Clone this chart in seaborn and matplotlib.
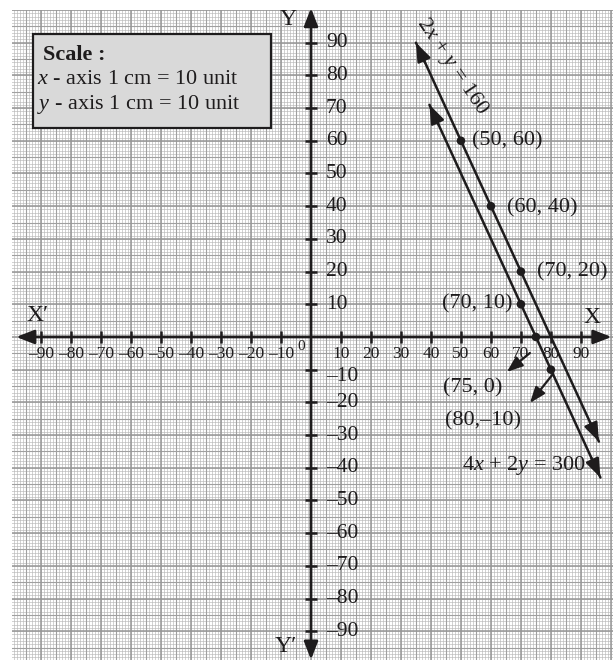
import numpy as np
import pandas as pd
import matplotlib
matplotlib.use("Agg")
import matplotlib.pyplot as plt
from matplotlib.patches import Rectangle
import seaborn as sns

# ---- data ----
x_ticks = [-90, -80, -70, -60, -50, -40, -30, -20, -10, 10, 20, 30, 40, 50, 60, 70, 80, 90]
y_ticks = [90, 80, 70, 60, 50, 40, 30, 20, 10, -10, -20, -30, -40, -50, -60, -70, -80, -90]

# 2x + y = 160  (drawn between these x values)
line1_x = [35, 96]
line1_c = 160
# 4x + 2y = 300  ->  2x + y = 150
line2_x = [39.5, 96.5]
line2_c = 150

pts1_x = [50, 60, 70]
pts1_y = [60, 40, 20]
pts2_x = [70, 75, 80]
pts2_y = [10, 0, -10]

INK = "#1e1c1d"

def minus(v):
    return str(v).replace("-", "\u2013")

sns.set_theme(style="white")
plt.rcParams["font.family"] = ["Liberation Serif", "DejaVu Serif"]
plt.rcParams["mathtext.fontset"] = "custom"
plt.rcParams["mathtext.rm"] = "Liberation Serif"
plt.rcParams["mathtext.it"] = "Liberation Serif:italic"
plt.rcParams["mathtext.bf"] = "Liberation Serif:bold"

W, H = 613, 660
fig = plt.figure(figsize=(W / 100, H / 100), dpi=100)
ax = fig.add_axes([12 / W, 0, 1 - 12 / W, 650 / H])
ax.set_xlim(-99.7, 100.7)
ax.set_ylim(-98.8, 100.0)
ax.set_axis_off()

# ---- graph paper ----
fine = np.arange(-100, 101, 1)
half = np.arange(-95, 101, 10)
major = np.arange(-100, 101, 10)
ax.vlines(fine, -100, 101, color="#b8b8b8", lw=0.45, zorder=0)
ax.hlines(fine, -100, 101, color="#b8b8b8", lw=0.45, zorder=0)
ax.vlines(half, -100, 101, color="#a0a0a0", lw=0.8, zorder=0)
ax.hlines(half, -100, 101, color="#a0a0a0", lw=0.8, zorder=0)
ax.vlines(major, -100, 101, color="#969696", lw=1.1, zorder=0)
ax.hlines(major, -100, 101, color="#969696", lw=1.1, zorder=0)

# ---- coordinate axes with arrows ----
axis_kw = dict(arrowstyle="<|-|>,head_length=0.9,head_width=0.35", lw=2.0,
               color=INK, shrinkA=0, shrinkB=0, mutation_scale=12)
ax.annotate("", xy=(100.2, 0), xytext=(-98.3, 0), arrowprops=axis_kw,
            annotation_clip=False, zorder=3)
ax.annotate("", xy=(0, 100.6), xytext=(0, -98.7), arrowprops=axis_kw,
            annotation_clip=False, zorder=3)
ax.plot(x_ticks, [0] * len(x_ticks), ls="none", marker="|", ms=9, mew=1.8,
        color=INK, zorder=3)
ax.plot([0] * len(y_ticks), y_ticks, ls="none", marker="_", ms=9, mew=1.8,
        color=INK, zorder=3)

for v in x_ticks:
    ax.text(v, -5.2, minus(v), ha="center", va="center", fontsize=12.5,
            color=INK, zorder=4)
for v in y_ticks:
    # the label just below the origin sits a little lower, clear of the x labels
    ty = v - 2.2 if v == -10 else v
    ax.text(5.0, ty, minus(v), ha="left", va="center", fontsize=15.5,
            color=INK, zorder=4)
ax.text(-3.4, -2.8, "0", ha="center", va="center", fontsize=11, color=INK)

lab_kw = dict(ha="center", va="center", fontsize=17, color=INK)
ax.text(-91.3, 6.6, "X\u2032", **lab_kw)
ax.text(93.7, 5.8, "X", **lab_kw)
ax.text(-7.7, 97.0, "Y", **lab_kw)
ax.text(-8.5, -94.8, "Y\u2032", **lab_kw)

# ---- the two lines ----
head_kw = dict(arrowstyle="-|>,head_length=0.8,head_width=0.3", lw=1.8,
               color=INK, shrinkA=0, shrinkB=0, mutation_scale=14)
for xs, c in ((line1_x, line1_c), (line2_x, line2_c)):
    xs = np.array(xs, dtype=float)
    df = pd.DataFrame({"x": xs, "y": c - 2 * xs})
    sns.lineplot(data=df, x="x", y="y", ax=ax, color=INK, lw=1.8,
                 sort=False, zorder=3)
    for a, b in ((xs[0], xs[0] + 3), (xs[1], xs[1] - 3)):
        ax.annotate("", xy=(a, c - 2 * a), xytext=(b, c - 2 * b),
                    arrowprops=head_kw, zorder=3)

pts = pd.DataFrame({"x": pts1_x + pts2_x, "y": pts1_y + pts2_y})
sns.scatterplot(data=pts, x="x", y="y", ax=ax, color=INK, s=38,
                edgecolor="none", zorder=5)
ax.set_xlabel("")
ax.set_ylabel("")

pt_kw = dict(fontsize=16, color=INK, va="center")
ax.text(53.7, 60, f"({pts1_x[0]}, {pts1_y[0]})", ha="left", **pt_kw)
ax.text(65.3, 39.6, f"({pts1_x[1]}, {pts1_y[1]})", ha="left", **pt_kw)
ax.text(75.3, 20, f"({pts1_x[2]}, {pts1_y[2]})", ha="left", **pt_kw)
ax.text(67.3, 10, f"({pts2_x[0]}, {pts2_y[0]})", ha="right", **pt_kw)
ax.text(54.0, -15.6, f"({pts2_x[1]}, {pts2_y[1]})", ha="center", **pt_kw)
ax.text(57.3, -25.7, f"({pts2_x[2]},{minus(pts2_y[2])})", ha="center", **pt_kw)

ptr_kw = dict(arrowstyle="-|>,head_length=0.8,head_width=0.3", lw=1.6,
              color=INK, shrinkA=0, shrinkB=0, mutation_scale=12)
ax.annotate("", xy=(65.3, -10.7), xytext=(73.0, -4.9), arrowprops=ptr_kw, zorder=4)
ax.annotate("", xy=(73.0, -20.2), xytext=(80.7, -11.3), arrowprops=ptr_kw, zorder=4)

ax.text(71.0, -39.4, "4$x$ + 2$y$ = 300", ha="center", va="center",
        fontsize=16, color=INK)
ax.text(47.0, 82.9, "2$x$ + $y$ = 160", ha="center", va="center",
        fontsize=16, color=INK, rotation=-56, rotation_mode="anchor")

# ---- scale box ----
box = Rectangle((33 / W, 1 - 128 / H), (271 - 33) / W, (128 - 34) / H,
                transform=fig.transFigure, facecolor="#d9d9d9",
                edgecolor=INK, lw=1.6, zorder=6)
fig.patches.append(box)
fig.text(43 / W, 1 - 55 / H, "Scale :", fontsize=16, fontweight="bold",
         va="center", ha="left", color=INK, zorder=7)
fig.text(37 / W, 1 - 80 / H, "$x$ - axis 1 cm = 10 unit", fontsize=16,
         va="center", ha="left", color=INK, zorder=7)
fig.text(37 / W, 1 - 105 / H, "$y$ - axis 1 cm = 10 unit", fontsize=16,
         va="center", ha="left", color=INK, zorder=7)

fig.savefig("out.png", dpi=100, facecolor="white")
